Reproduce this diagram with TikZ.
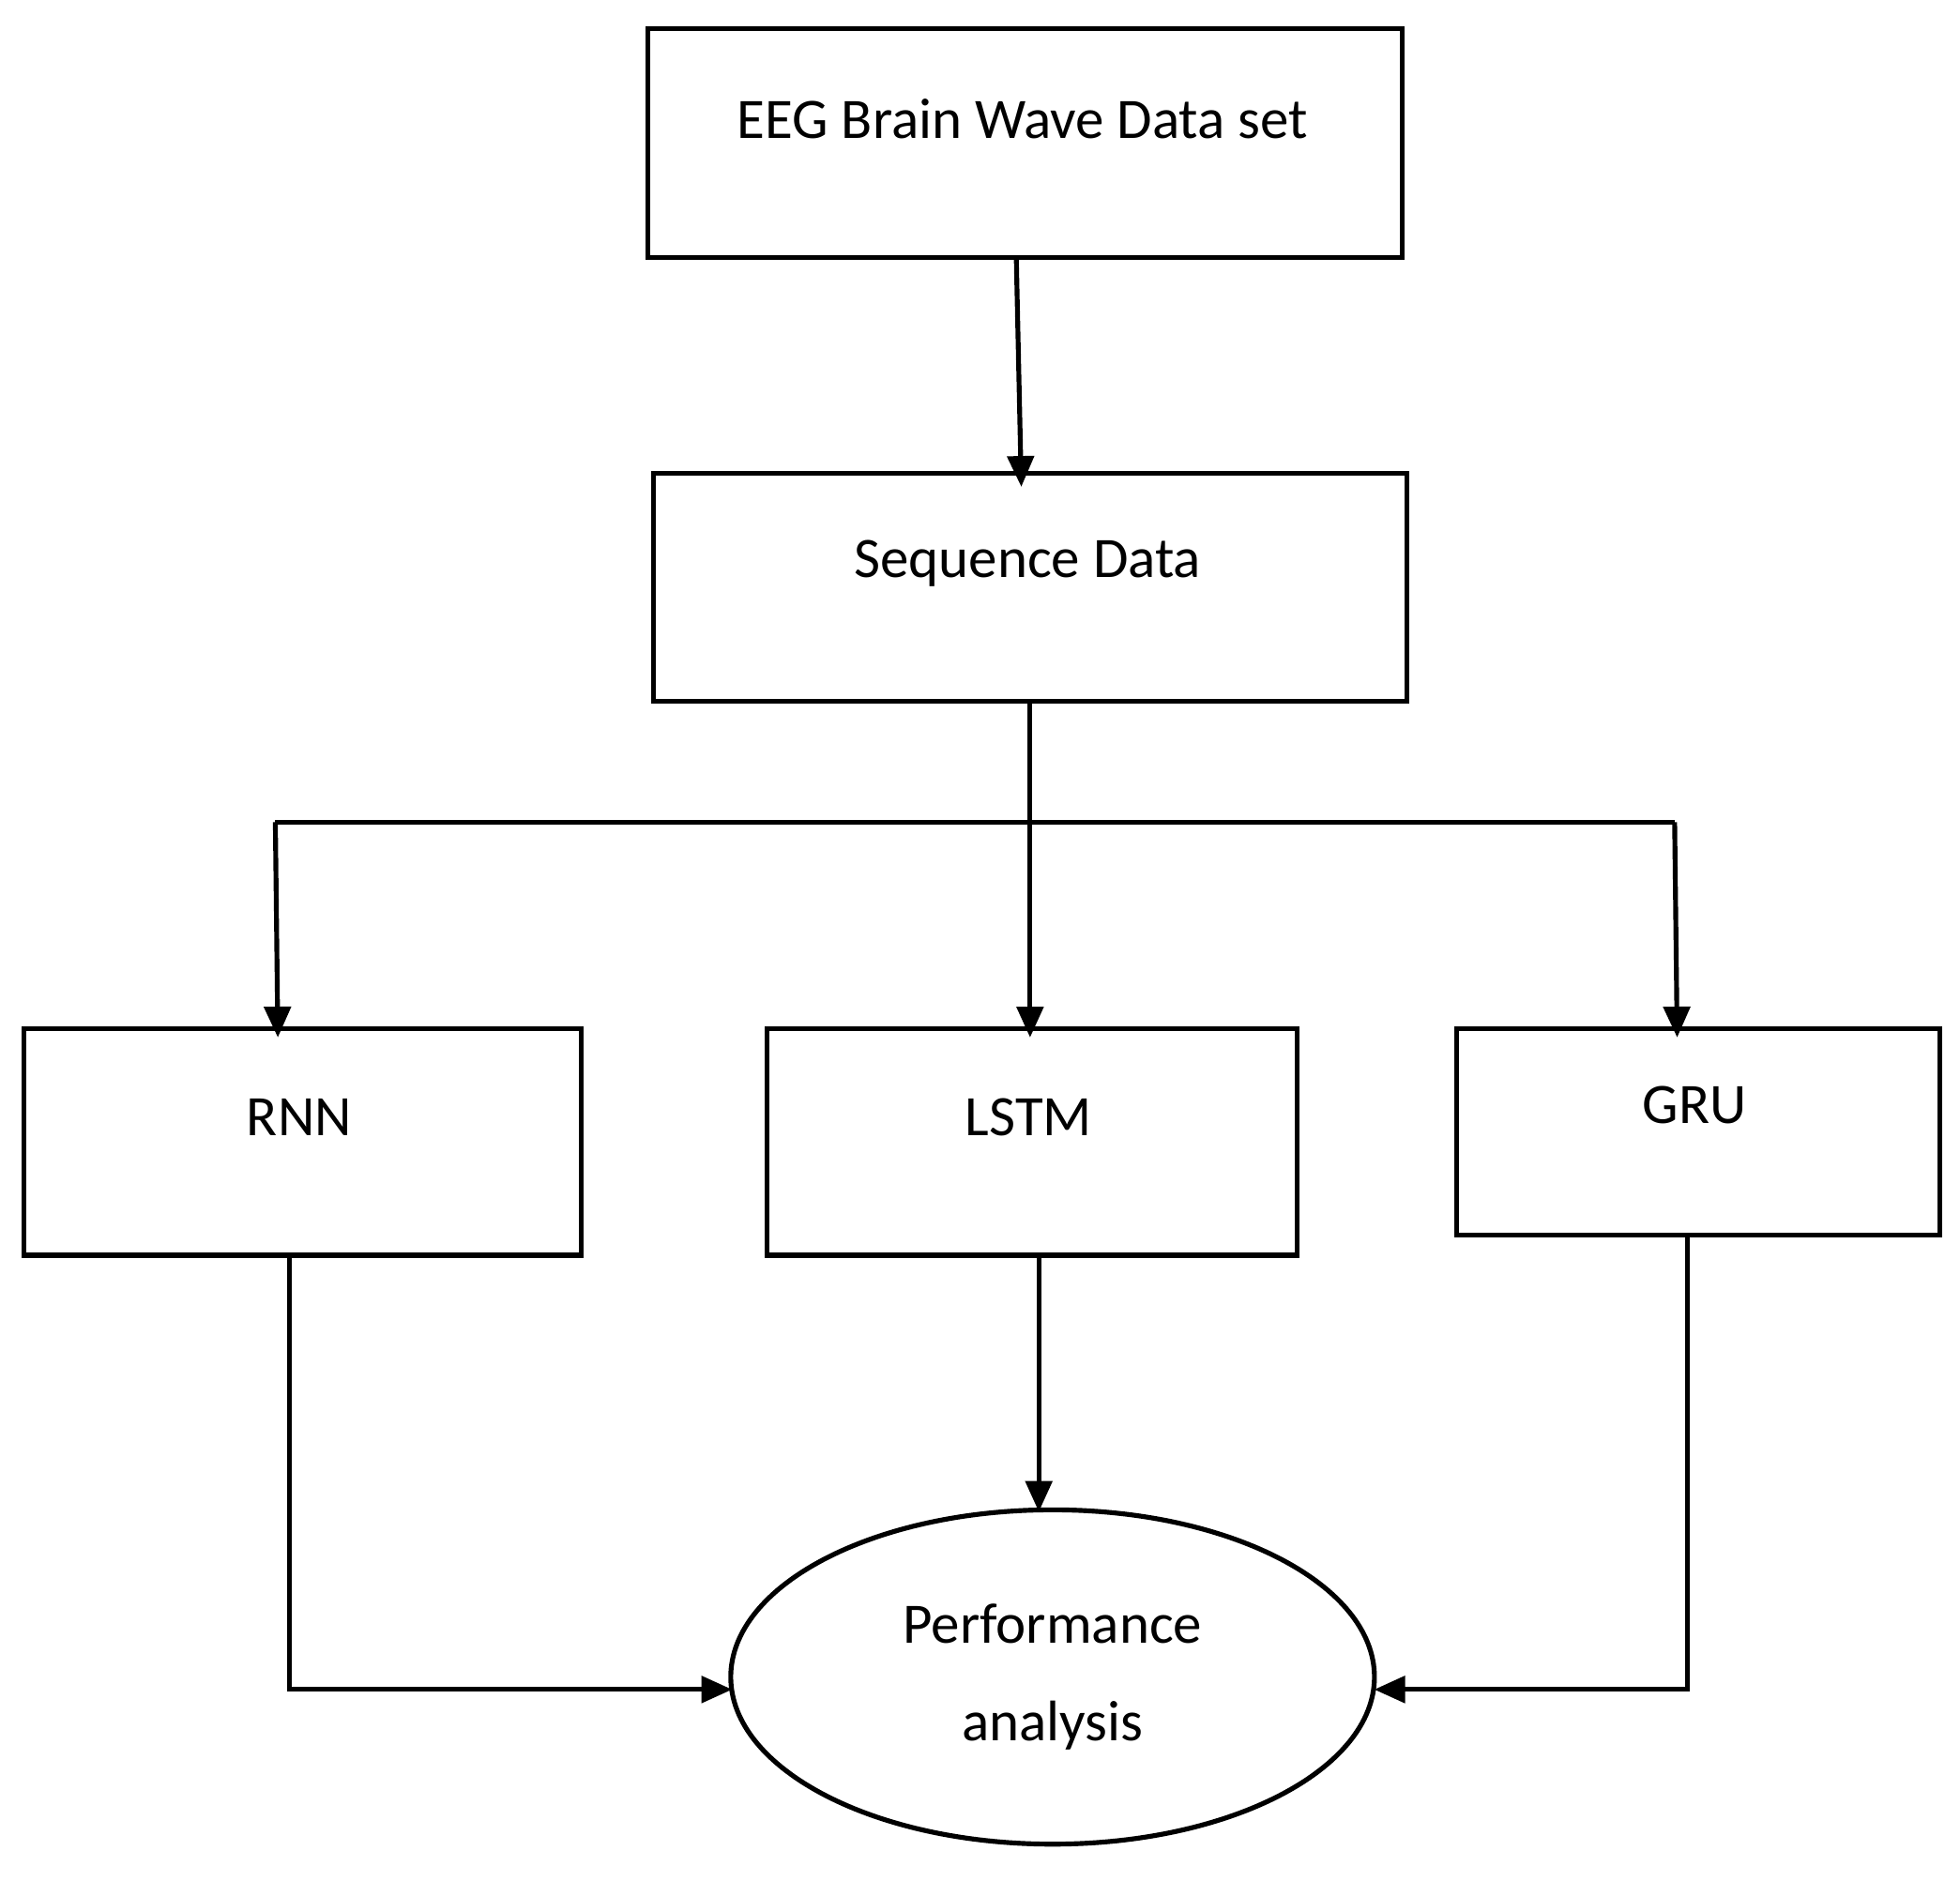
\documentclass[tikz,border=0pt]{standalone}
\usepackage{fontspec}
\setmainfont{Carlito}
\usetikzlibrary{arrows.meta,shapes.geometric}
\begin{document}
\begin{tikzpicture}[x=0.01cm,y=-0.01cm,
  box/.style={draw,line width=1.1pt,minimum width=#1,inner sep=0},
  lbl/.style={font=\fontsize{13}{16}\selectfont},
  ln/.style={line width=1.1pt},
  arr/.style={ln,-{Triangle[length=7pt,width=6pt]}}]
\useasboundingbox (0,0) rectangle (1566,1503);
\node[draw,line width=1.1pt,minimum width=6.02cm,minimum height=1.83cm] (eeg) at (819,114.5) {};
\node[lbl] (teeg) at (817,95) {EEG Brain Wave Data set};
\node[draw,line width=1.1pt,minimum width=6.02cm,minimum height=1.82cm] (seq) at (823,469) {};
\node[lbl] (tseq) at (821,450) {Sequence Data};
\node[draw,line width=1.1pt,minimum width=4.45cm,minimum height=1.81cm] (rnn) at (241.5,912.5) {};
\node[lbl] (trnn) at (239,893) {RNN};
\node[draw,line width=1.1pt,minimum width=4.23cm,minimum height=1.81cm] (lstm) at (824.5,912.5) {};
\node[lbl] (tlstm) at (822,893) {LSTM};
\node[draw,line width=1.1pt,minimum width=3.86cm,minimum height=1.65cm] (gru) at (1357,904.5) {};
\node[lbl] (tgru) at (1354,883) {GRU};
\node[draw,ellipse,line width=1.1pt,minimum width=5.14cm,minimum height=2.67cm,inner sep=0] (perf) at (841,1340) {};
\node[lbl,align=center] (tperf) at (841,1340) {Performance\\[6pt]analysis};
\coordinate (j) at (823,657);
\coordinate (jl) at (220,657);
\coordinate (jr) at (1338,657);
\draw[arr] (812,206) -- (816,389);
\draw[arr] (823,560) -- (823,829);
\draw[ln] (jl) -- (jr);
\draw[arr] (jl) -- (222,829);
\draw[arr] (jr) -- (1340,829);
\draw[arr] (830,1003) -- (830,1208);
\draw[arr] (231,1003) -- (231,1350) -- (585,1350);
\draw[arr] (1348,987) -- (1348,1350) -- (1098,1350);
\end{tikzpicture}
\end{document}
